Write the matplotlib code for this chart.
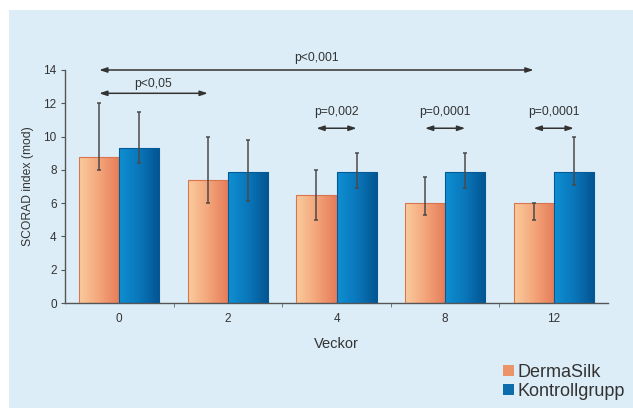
import numpy as np
import matplotlib.pyplot as plt
from matplotlib.colors import LinearSegmentedColormap
from matplotlib.patches import Rectangle, Patch

plt.rcParams['font.family'] = ['Liberation Sans', 'DejaVu Sans']

weeks = ['0', '2', '4', '8', '12']

# DermaSilk group: mean and error bar ends
derma_mean = [8.8, 7.4, 6.5, 6.0, 6.0]
derma_low = [8.0, 6.0, 5.0, 5.3, 5.0]
derma_high = [12.0, 10.0, 8.0, 7.6, 6.0]

# control group
ctrl_mean = [9.3, 7.9, 7.9, 7.9, 7.9]
ctrl_low = [8.4, 6.1, 6.9, 6.9, 7.1]
ctrl_high = [11.5, 9.8, 9.0, 9.0, 10.0]

# significance brackets: (from bar, to bar, arrow height, label height, label)
# bar = (week index, group)
brackets = [
    ((0, 0), (4, 0), 14.0, 14.7, 'p<0,001'),
    ((0, 0), (1, 0), 12.6, 13.15, 'p<0,05'),
    ((2, 0), (2, 1), 10.5, 11.5, 'p=0,002'),
    ((3, 0), (3, 1), 10.5, 11.5, 'p=0,0001'),
    ((4, 0), (4, 1), 10.5, 11.5, 'p=0,0001'),
]

bg = '#dcedf7'
txt = '#333333'
orange_map = LinearSegmentedColormap.from_list('o', ['#f9cb9d', '#f4a57a', '#e57c58'])
blue_map = LinearSegmentedColormap.from_list('b', ['#0e8fd2', '#0a76ba', '#035490'])

fig = plt.figure(figsize=(6.33, 4.08), dpi=100)
fig.patches.append(Rectangle((9 / 633, 0), 1, 1 - 10 / 408, transform=fig.transFigure,
                             facecolor=bg, edgecolor='none', zorder=-10))

ax = fig.add_axes([65 / 633, 105 / 408, 543 / 633, 233 / 408])
ax.set_facecolor('none')

x = np.arange(len(weeks))
w = 0.37
off = w / 2
grad = np.linspace(0, 1, 64).reshape(1, -1)


def gradient_bars(xs, heights, cmap, edge):
    bars = ax.bar(xs, heights, w, facecolor='none', edgecolor=edge, linewidth=0.8, zorder=3)
    for b in bars:
        im = ax.imshow(grad, cmap=cmap, aspect='auto', zorder=2,
                       extent=[b.get_x(), b.get_x() + b.get_width(), 0, b.get_height()])
        im.set_clip_path(b)
    return bars


gradient_bars(x - off, derma_mean, orange_map, '#d9744e')
gradient_bars(x + off, ctrl_mean, blue_map, '#045a98')

for xs, m, lo, hi in [(x - off, derma_mean, derma_low, derma_high),
                      (x + off, ctrl_mean, ctrl_low, ctrl_high)]:
    m = np.array(m)
    yerr = [m - np.array(lo), np.array(hi) - m]
    ax.errorbar(xs, m, yerr=yerr, fmt='none', ecolor='#4a4a4a', elinewidth=1.1,
                capsize=1.5, capthick=1.1, zorder=4)

for (a, b, y, ty, label) in brackets:
    xa = a[0] + (-off if a[1] == 0 else off)
    xb = b[0] + (-off if b[1] == 0 else off)
    ax.annotate('', xy=(xb, y), xytext=(xa, y), annotation_clip=False,
                arrowprops=dict(arrowstyle='<|-|>,head_length=0.45,head_width=0.15',
                                color='#333333', lw=1.1, shrinkA=0, shrinkB=0))
    ax.text((xa + xb) / 2, ty, label, ha='center', va='center',
            fontsize=8.7, color=txt, clip_on=False)

ax.set_xlim(-0.5, 4.5)
ax.set_ylim(0, 14)
ax.set_yticks(np.arange(0, 15, 2))
ax.set_xticks(x)
ax.set_xticklabels(weeks)
ax.set_xticks(np.arange(0.5, 4.5, 1), minor=True)
ax.tick_params(axis='x', which='major', length=0, pad=7, labelsize=8.5, labelcolor=txt)
ax.tick_params(axis='x', which='minor', length=3, direction='out', color='#666666')
ax.tick_params(axis='y', length=3, color='#555555', labelsize=8.5, labelcolor=txt, pad=3)
for s in ['top', 'right']:
    ax.spines[s].set_visible(False)
for s in ['left', 'bottom']:
    ax.spines[s].set_color('#555555')
    ax.spines[s].set_linewidth(1.0)

ax.set_xlabel('Veckor', fontsize=10.5, color=txt, labelpad=9)
ax.set_ylabel('SCORAD index (mod)', fontsize=8.7, color=txt, labelpad=7)

handles = [Patch(facecolor='#eb9468', edgecolor='none', label='DermaSilk'),
           Patch(facecolor='#0d6cab', edgecolor='none', label='Kontrollgrupp')]
fig.legend(handles=handles, loc='lower right', bbox_to_anchor=(1.002, -0.002), frameon=False,
           fontsize=13, handlelength=0.6, handleheight=0.6, handletextpad=0.2,
           labelspacing=0.1, borderpad=0.0, labelcolor=txt)

fig.savefig('out.png', dpi=100, facecolor='white')
